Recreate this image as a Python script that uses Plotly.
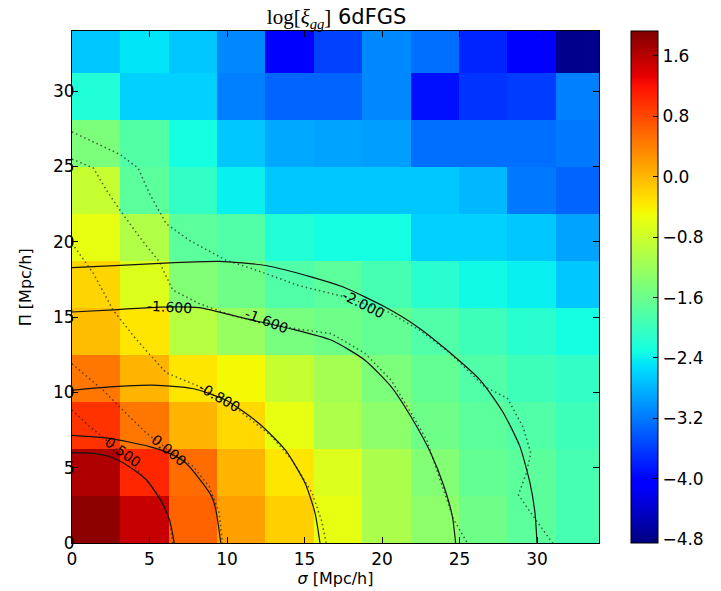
import plotly.graph_objects as go

# ---------------- data ----------------
sigma_edges = [0, 3.12, 6.24, 9.36, 12.48, 15.6, 18.72, 21.84, 24.96, 28.08, 31.2, 34.32]
pi_edges = [0, 3.12, 6.24, 9.36, 12.48, 15.6, 18.72, 21.84, 24.96, 28.08, 31.2, 34.32]

# log[xi_gg], rows from Pi=0 (bottom) upwards, columns sigma=0 -> 34
row_00 = [1.86, 1.52, 0.61, 0.17, -0.17, -0.58, -1.07, -1.32, -1.57, -1.73, -1.90]
row_01 = [1.66, 1.05, 0.54, 0.03, -0.33, -0.67, -1.07, -1.41, -1.66, -1.73, -1.90]
row_02 = [0.96, 0.47, 0.03, -0.24, -0.58, -1.05, -1.32, -1.57, -1.73, -1.82, -1.98]
row_03 = [0.47, 0.03, -0.33, -0.48, -0.85, -1.12, -1.46, -1.66, -1.82, -1.98, -2.07]
row_04 = [-0.04, -0.33, -0.98, -1.24, -1.49, -1.57, -1.66, -1.82, -1.98, -2.14, -2.31]
row_05 = [-0.21, -0.67, -1.41, -1.57, -1.82, -1.73, -1.90, -2.14, -2.34, -2.41, -2.68]
row_06 = [-0.58, -1.02, -1.73, -1.82, -2.21, -2.31, -2.31, -2.61, -2.61, -2.68, -2.92]
row_07 = [-0.85, -1.73, -2.07, -2.41, -2.68, -2.68, -2.68, -2.68, -2.78, -3.20, -3.34]
row_08 = [-1.46, -1.80, -2.31, -2.68, -2.88, -2.92, -2.95, -3.27, -3.27, -3.27, -3.20]
row_09 = [-2.21, -2.61, -2.61, -3.15, -3.34, -3.34, -3.09, -3.90, -3.66, -3.60, -3.15]
row_10 = [-2.68, -2.48, -2.68, -3.09, -4.04, -3.56, -3.09, -3.27, -3.76, -4.07, -4.78]
log_xi = [row_00, row_01, row_02, row_03, row_04, row_05,
          row_06, row_07, row_08, row_09, row_10]

z_min = -4.85
z_max = 1.93
cbar_ticks = [-4.8, -4.0, -3.2, -2.4, -1.6, -0.8, 0.0, 0.8, 1.6]
axis_ticks = [0, 5, 10, 15, 20, 25, 30]

# model contours (solid)
model_05_s = [0, 1.4, 2.45, 3.5, 4.8, 5.85, 6.3, 6.6]
model_05_p = [6.0, 5.95, 5.73, 5.2, 4.2, 2.6, 1.5, 0]
model_00_s = [0, 2.45, 5.0, 6.3, 7.36, 8.43, 9.0, 9.28, 9.6]
model_00_p = [7.15, 6.95, 6.4, 5.95, 5.3, 3.97, 3.1, 2.2, 0]
model_m08_s = [0, 2.45, 5.22, 7.78, 9.92, 12.05, 13.76, 15.04, 15.68, 16.0]
model_m08_p = [10.15, 10.37, 10.48, 10.26, 9.49, 7.95, 6.18, 3.97, 1.99, 0]
model_m16_s = [0, 3.0, 5.65, 8.2, 11.2, 14.2, 16.75, 18.9, 20.6, 21.87, 23.15, 24.0, 24.54, 24.75]
model_m16_p = [15.34, 15.5, 15.67, 15.63, 14.9, 14.2, 13.46, 12.14, 10.37, 8.38, 5.96, 3.75, 1.76, 0]
model_m20_s = [0, 3.1, 6.3, 9.5, 12.5, 15.47, 17.5, 20.2, 22.3, 24.2, 26.35, 27.85, 28.9, 29.55, 29.87, 30.0]
model_m20_p = [18.28, 18.43, 18.6, 18.7, 18.43, 17.66, 17.0, 15.67, 14.35, 12.8, 10.8, 8.6, 6.4, 3.97, 1.99, 0]

# data contours (dotted)
data_05_s = [0, 1.17, 2.5, 3.5, 4.6, 5.65, 6.3, 6.5]
data_05_p = [8.83, 7.7, 6.6, 5.7, 4.4, 3.1, 1.5, 0]
data_00_s = [0, 2.0, 3.5, 4.8, 6.2, 7.8, 8.85, 9.5, 9.7]
data_00_p = [11.9, 10.15, 8.6, 7.3, 6.2, 5.1, 3.75, 2.0, 0]
data_m08_s = [0, 1.38, 2.66, 4.16, 6.08, 8.2, 10.8, 12.9, 14.2, 15.5, 16.1, 16.4]
data_m08_p = [19.9, 17.9, 15.45, 13.5, 11.3, 10.4, 8.8, 7.06, 5.5, 3.3, 1.5, 0]
data_m16_s = [0, 1.38, 2.24, 3.1, 4.37, 5.65, 6.08, 6.5, 8.2, 10.35, 12.05, 14.6, 16.75,
              18.9, 20.6, 21.9, 22.9, 23.8, 24.6, 25.5]
data_m16_p = [25.5, 24.9, 23.4, 22.1, 20.3, 18.65, 17.7, 16.8, 15.9, 15.1, 14.7, 14.2, 13.9,
              12.6, 10.8, 8.6, 6.8, 4.0, 1.6, 0]
data_m20_s = [0, 3.1, 4.26, 5.0, 6.08, 7.57, 9.9, 12.5, 14.6, 17.4, 20.2, 22.5, 24.4, 26.6,
              28.1, 29.1, 29.6, 29.3, 28.8, 29.6, 31.0]
data_m20_p = [27.3, 25.8, 24.9, 23.2, 21.2, 20.1, 18.8, 17.9, 17.1, 16.4, 15.45, 14.1, 12.6,
              10.4, 9.6, 7.7, 5.96, 4.6, 3.2, 2.0, 0]

# contour labels
label_text = ["-2.000", "-1.600", "-1.600", "-0.800", "0.000", "0.500"]
label_s = [18.78, 12.57, 6.3, 9.5, 6.24, 3.28]
label_p = [15.9, 14.73, 15.7, 9.7, 6.18, 6.05]
label_angle = [27, 21, 3, 30, 40, 36]

# matplotlib "jet"
jet = [
    [0.0, "rgb(0,0,128)"], [0.11, "rgb(0,0,255)"], [0.125, "rgb(0,0,255)"],
    [0.34, "rgb(0,219,255)"], [0.35, "rgb(0,230,247)"], [0.375, "rgb(21,255,226)"],
    [0.64, "rgb(239,255,8)"], [0.65, "rgb(247,245,0)"], [0.66, "rgb(255,236,0)"],
    [0.89, "rgb(255,19,0)"], [0.91, "rgb(232,0,0)"], [1.0, "rgb(128,0,0)"],
]

FONT = "DejaVu Sans"

fig = go.Figure()
fig.add_trace(go.Heatmap(
    x=sigma_edges, y=pi_edges, z=log_xi, zmin=z_min, zmax=z_max,
    colorscale=jet, showscale=True, hoverinfo="skip",
    colorbar=dict(
        x=1.0603, xanchor="left", xpad=0, y=0.5, yanchor="middle",
        len=1.0, lenmode="fraction", thickness=27, thicknessmode="pixels",
        outlinecolor="black", outlinewidth=1, ypad=0,
        tickmode="array", tickvals=cbar_ticks, tickformat=".1f",
        ticks="inside", ticklen=5, tickcolor="black", tickwidth=1,
        tickfont=dict(family=FONT, size=17, color="black"),
    ),
))

for s, p in [(model_05_s, model_05_p), (model_00_s, model_00_p), (model_m08_s, model_m08_p),
             (model_m16_s, model_m16_p), (model_m20_s, model_m20_p)]:
    fig.add_trace(go.Scatter(x=s, y=p, mode="lines",
                             line=dict(color="rgb(20,20,20)", width=1.2, shape="spline", smoothing=0.6),
                             showlegend=False, hoverinfo="skip"))
for s, p in [(data_05_s, data_05_p), (data_00_s, data_00_p), (data_m08_s, data_m08_p),
             (data_m16_s, data_m16_p), (data_m20_s, data_m20_p)]:
    fig.add_trace(go.Scatter(x=s, y=p, mode="lines",
                             line=dict(color="rgba(30,30,30,0.7)", width=1.5, dash="1.5px,3px"),
                             showlegend=False, hoverinfo="skip"))

for t, s, p, a in zip(label_text, label_s, label_p, label_angle):
    fig.add_annotation(x=s, y=p, xref="x", yref="y", text=t, showarrow=False, textangle=a,
                       font=dict(family=FONT, size=14, color="black"))

# y-axis title as an annotation to place it exactly
fig.add_annotation(x=-0.0887, y=0.5, xref="paper", yref="paper", text="Π [Mpc/h]",
                   showarrow=False, textangle=-90, xanchor="center", yanchor="middle",
                   font=dict(family=FONT, size=16, color="black"))

axis_common = dict(
    range=[0, 34], tickmode="array", tickvals=axis_ticks, ticks="inside", ticklen=6,
    tickwidth=1, tickcolor="black", showline=True, linecolor="black", linewidth=1,
    mirror="allticks", showgrid=False, zeroline=False, automargin=False,
    tickfont=dict(family=FONT, size=17, color="black"),
)

fig.update_layout(
    width=713, height=583,
    margin=dict(l=64, r=119, t=23, b=48),
    paper_bgcolor="white", plot_bgcolor="white",
    title=dict(
        text="<span style='font-family:Liberation Serif'>log[<i>ξ</i><sub><i>gg</i></sub>]</span> 6dFGS",
        x=0.363, xanchor="left", y=0.985, yanchor="middle", automargin=False,
        font=dict(family=FONT, size=21, color="black"),
    ),
    xaxis=dict(axis_common, ticklabelstandoff=1,
               title=dict(text="<i>σ</i> [Mpc/h]", standoff=2,
                          font=dict(family=FONT, size=16, color="black"))),
    yaxis=dict(axis_common, ticklabelstandoff=-7),
)

fig.write_html("out.html")
